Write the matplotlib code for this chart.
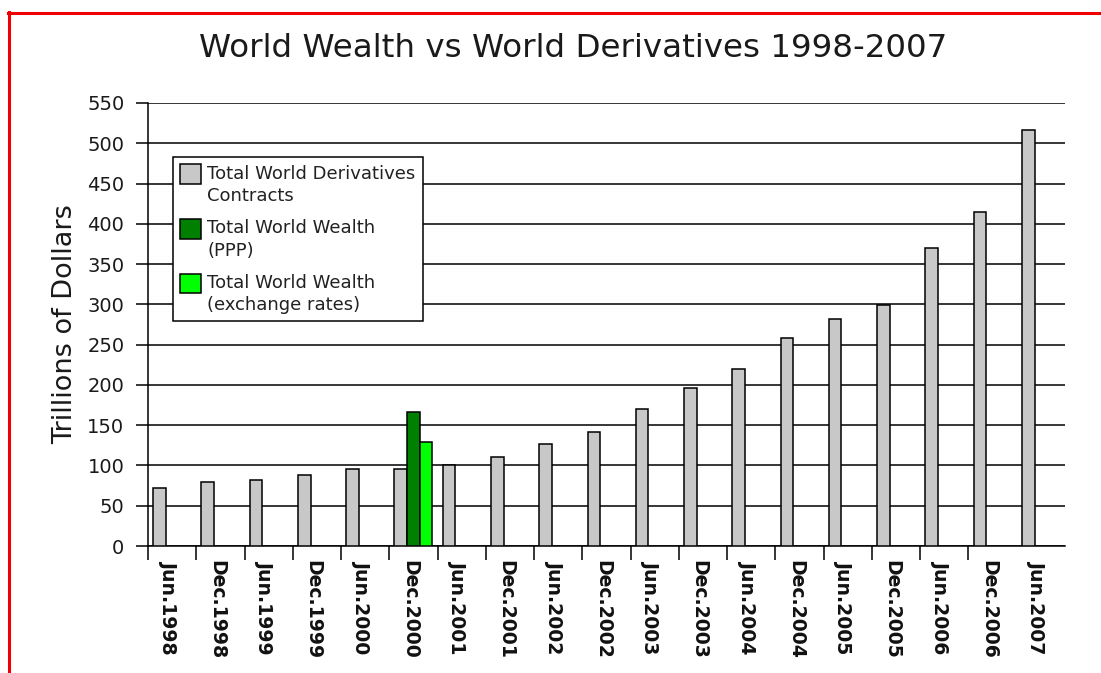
import matplotlib
matplotlib.use("Agg")
import matplotlib.pyplot as plt
import numpy as np
from matplotlib.patches import Rectangle
from matplotlib.lines import Line2D
from matplotlib.legend_handler import HandlerPatch
from matplotlib.container import BarContainer

categories = ["Jun.1998", "Dec.1998", "Jun.1999", "Dec.1999", "Jun.2000",
              "Dec.2000", "Jun.2001", "Dec.2001", "Jun.2002", "Dec.2002",
              "Jun.2003", "Dec.2003", "Jun.2004", "Dec.2004", "Jun.2005",
              "Dec.2005", "Jun.2006", "Dec.2006", "Jun.2007"]
derivatives = [72, 80, 82, 88, 95, 95, 100, 110, 127, 141, 170, 196, 220, 258,
               282, 299, 370, 415, 516]
wealth_ppp = [0, 0, 0, 0, 0, 166, 0, 0, 0, 0, 0, 0, 0, 0, 0, 0, 0, 0, 0]
wealth_fx = [0, 0, 0, 0, 0, 129, 0, 0, 0, 0, 0, 0, 0, 0, 0, 0, 0, 0, 0]
yticks = list(range(0, 551, 50))

series_labels = ["Total World Derivatives\nContracts",
                 "Total World Wealth\n(PPP)",
                 "Total World Wealth\n(exchange rates)"]
colors = ["#c8c8c8", "#008000", "#00ff00"]

fig = plt.figure(figsize=(11.01, 6.73), dpi=100)
fig.patch.set_facecolor("white")
ax = fig.add_axes([148 / 1101, 1 - 546 / 673, 917 / 1101, 443 / 673])

x = np.arange(len(categories))
w = 0.262
edge = dict(edgecolor="black", linewidth=1.1, zorder=3)
ax.bar(x - w, derivatives, w, color=colors[0], label=series_labels[0], **edge)
mask = np.array(wealth_ppp) > 0
ax.bar(x[mask], np.array(wealth_ppp)[mask], w, color=colors[1], label=series_labels[1], **edge)
mask2 = np.array(wealth_fx) > 0
ax.bar(x[mask2] + w, np.array(wealth_fx)[mask2], w, color=colors[2], label=series_labels[2], **edge)

ax.set_xlim(-0.5, len(categories) - 0.5)
ax.set_ylim(0, 550)
ax.set_yticks(yticks)
ax.set_yticklabels([str(v) for v in yticks], fontsize=14, color="#1a1a1a")
ax.tick_params(axis="y", length=9, width=1.1, pad=8, direction="out")

# major x ticks at category boundaries, labels on minor ticks
ax.set_xticks(np.arange(len(categories) - 1) - 0.5)
ax.set_xticklabels([])
ax.tick_params(axis="x", which="major", length=10, width=1.1, direction="out")
ax.set_xticks(x - 0.08, minor=True)
ax.set_xticklabels(categories, minor=True, rotation=-90, fontsize=13.6,
                   fontweight="bold", color="#111111")
ax.tick_params(axis="x", which="minor", length=0, pad=10)

ax.grid(axis="y", color="black", linewidth=1.1)
ax.set_axisbelow(True)
for s in ["top", "right"]:
    ax.spines[s].set_visible(False)
for s in ["left", "bottom"]:
    ax.spines[s].set_linewidth(1.1)

ax.set_ylabel("Trillions of Dollars", fontsize=19.5, color="#1a1a1a")
ax.yaxis.set_label_coords(-0.0765, 0.5)

fig.text(573 / 1101, 1 - 57 / 673, "World Wealth vs World Derivatives 1998-2007",
         ha="center", va="baseline", fontsize=23.4, color="#1a1a1a")


class TopPatch(HandlerPatch):
    def create_artists(self, legend, orig_handle, xdescent, ydescent, width,
                       height, fontsize, trans):
        src = orig_handle.patches[0] if isinstance(orig_handle, BarContainer) else orig_handle
        top = -ydescent + 0.6 * fontsize + height + 0.1 * fontsize
        h = 1.08 * fontsize
        p = Rectangle((-xdescent, top - h), width, h,
                      facecolor=src.get_facecolor(), edgecolor="black",
                      linewidth=1.1, transform=trans)
        return [p]


handles, labels = ax.get_legend_handles_labels()
leg = ax.legend(handles, labels, loc="upper left",
                bbox_to_anchor=(0.027, 0.877), borderaxespad=0,
                fontsize=13, handlelength=1.17, handleheight=1.1,
                handletextpad=0.33, borderpad=0.4, labelspacing=0.8,
                fancybox=False, framealpha=1, edgecolor="black",
                handler_map={BarContainer: TopPatch()})
leg.get_frame().set_linewidth(1.1)
for t in leg.get_texts():
    t.set_color("#222222")
    t.set_linespacing(1.3)

# red border
fig.add_artist(Line2D([8 / 1101, 1], [1 - 13 / 673, 1 - 13 / 673],
                      transform=fig.transFigure, color="#ee0000", linewidth=2.2))
fig.add_artist(Line2D([9 / 1101, 9 / 1101], [0, 1 - 12 / 673],
                      transform=fig.transFigure, color="#ee0000", linewidth=2.2))

fig.savefig("out.png", dpi=100, facecolor="white")
